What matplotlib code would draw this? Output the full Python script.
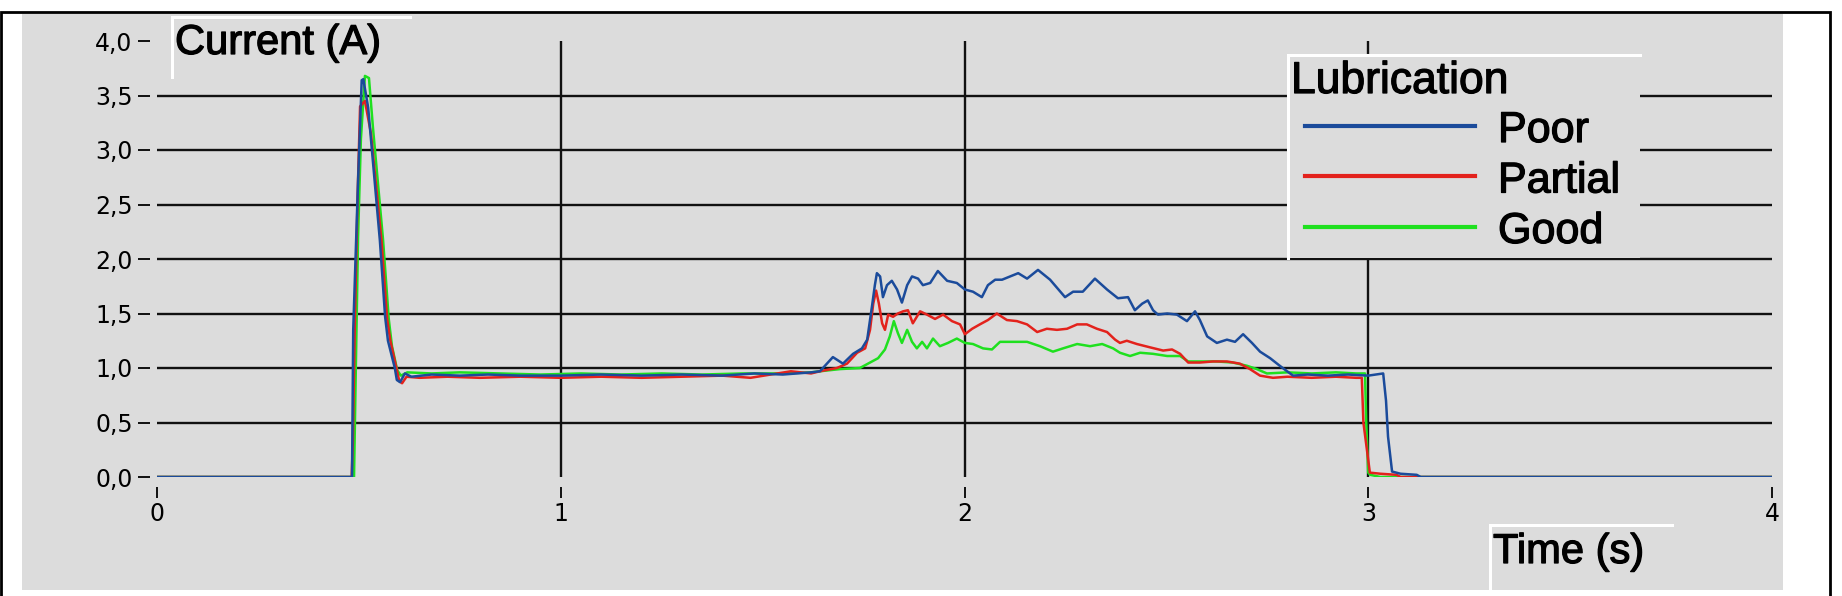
import matplotlib
matplotlib.use("Agg")
import matplotlib.pyplot as plt
import matplotlib.patheffects as pe
from matplotlib.lines import Line2D
from matplotlib.patches import Rectangle

W, H, DPI = 1842, 596, 100  # 输出尺寸 (像素)
PANEL = "#dcdcdc"
FONT = "Liberation Sans"
BOLDISH = [pe.withStroke(linewidth=0.9, foreground="black")]

SERIES = ["Poor", "Partial", "Good"]
COLORS = ["#1b4b9b", "#e3221c", "#1fe01f"]

X_TICKS = [0, 1, 2, 3, 4]
Y_TICKS = [0.0, 0.5, 1.0, 1.5, 2.0, 2.5, 3.0, 3.5, 4.0]

# Poor lubrication
t_poor = [0.0, 0.483, 0.486, 0.498, 0.507, 0.511, 0.523, 0.552, 0.565, 0.572, 0.589, 0.594, 0.602, 0.614,
          0.63, 0.68, 0.75, 0.82, 0.90, 1.00, 1.10, 1.20, 1.30, 1.40, 1.48, 1.55, 1.62,
          1.642, 1.674, 1.699, 1.724, 1.746, 1.759, 1.771, 1.778, 1.783, 1.791, 1.798, 1.808, 1.820,
          1.833, 1.845, 1.858, 1.870, 1.885, 1.897, 1.915, 1.934, 1.957, 1.981, 2.001, 2.021, 2.043,
          2.058, 2.076, 2.093, 2.113, 2.133, 2.155, 2.182, 2.212, 2.249, 2.269, 2.293, 2.323, 2.353,
          2.380, 2.405, 2.422, 2.440, 2.454, 2.467, 2.479, 2.502, 2.526, 2.551, 2.571, 2.583, 2.601,
          2.625, 2.650, 2.670, 2.690, 2.712, 2.732, 2.757, 2.781, 2.799, 2.814,
          2.85, 2.90, 2.95, 3.00, 3.037, 3.044, 3.049, 3.059, 3.08, 3.12, 3.13, 4.0]
i_poor = [0.0, 0.0, 1.35, 2.72, 3.64, 3.65, 3.39, 2.17, 1.47, 1.25, 1.00, 0.89, 0.87, 0.95,
          0.92, 0.94, 0.93, 0.94, 0.93, 0.93, 0.94, 0.93, 0.94, 0.93, 0.95, 0.94, 0.96,
          0.97, 1.10, 1.04, 1.13, 1.18, 1.26, 1.57, 1.76, 1.87, 1.84, 1.65, 1.76, 1.80,
          1.72, 1.60, 1.76, 1.84, 1.82, 1.76, 1.78, 1.89, 1.80, 1.78, 1.72, 1.70, 1.65,
          1.76, 1.81, 1.81, 1.84, 1.87, 1.82, 1.90, 1.81, 1.65, 1.70, 1.70, 1.82, 1.72,
          1.64, 1.65, 1.53, 1.59, 1.62, 1.53, 1.49, 1.50, 1.49, 1.43, 1.52, 1.44, 1.29,
          1.23, 1.26, 1.24, 1.31, 1.23, 1.15, 1.09, 1.02, 0.97, 0.93,
          0.94, 0.93, 0.94, 0.93, 0.95, 0.70, 0.37, 0.05, 0.03, 0.02, 0.0, 0.0]

# Partial lubrication
t_partial = [0.0, 0.482, 0.485, 0.490, 0.497, 0.503, 0.515, 0.530, 0.556, 0.570, 0.578, 0.593, 0.600, 0.607, 0.618,
             0.65, 0.72, 0.80, 0.90, 1.00, 1.10, 1.20, 1.30, 1.40, 1.47, 1.52, 1.57, 1.62,
             1.642, 1.684, 1.709, 1.734, 1.754, 1.766, 1.774, 1.781, 1.788, 1.796, 1.803, 1.811, 1.823,
             1.835, 1.848, 1.860, 1.872, 1.890, 1.907, 1.927, 1.947, 1.969, 1.989, 2.001, 2.019, 2.038,
             2.058, 2.080, 2.105, 2.130, 2.155, 2.180, 2.204, 2.229, 2.254, 2.279, 2.303, 2.328, 2.353,
             2.373, 2.385, 2.402, 2.427, 2.459, 2.492, 2.514, 2.534, 2.554, 2.583, 2.615, 2.650, 2.682,
             2.707, 2.732, 2.764, 2.80, 2.86, 2.92, 2.97, 2.984, 2.988, 3.004, 3.03, 3.07, 3.08, 4.0]
i_partial = [0.0, 0.0, 0.31, 1.40, 2.60, 3.40, 3.45, 3.15, 2.17, 1.45, 1.25, 1.00, 0.88, 0.86, 0.92,
             0.91, 0.92, 0.91, 0.92, 0.91, 0.92, 0.91, 0.92, 0.93, 0.91, 0.94, 0.97, 0.95,
             0.97, 1.00, 1.04, 1.14, 1.18, 1.35, 1.59, 1.71, 1.59, 1.41, 1.35, 1.49, 1.47,
             1.50, 1.52, 1.53, 1.41, 1.52, 1.49, 1.45, 1.49, 1.43, 1.40, 1.31, 1.36, 1.40,
             1.44, 1.50, 1.44, 1.43, 1.40, 1.33, 1.36, 1.35, 1.36, 1.40, 1.40, 1.36, 1.33,
             1.26, 1.23, 1.25, 1.22, 1.19, 1.16, 1.17, 1.13, 1.05, 1.05, 1.06, 1.06, 1.04,
             0.99, 0.93, 0.91, 0.92, 0.91, 0.92, 0.91, 0.91, 0.50, 0.04, 0.03, 0.02, 0.0, 0.0]

# Good lubrication
t_good = [0.0, 0.488, 0.492, 0.498, 0.505, 0.515, 0.525, 0.535, 0.560, 0.574, 0.582, 0.595, 0.604, 0.62,
          0.68, 0.75, 0.85, 0.95, 1.05, 1.15, 1.25, 1.35, 1.45, 1.55, 1.62,
          1.642, 1.692, 1.741, 1.766, 1.786, 1.803, 1.815, 1.825, 1.835, 1.845, 1.858, 1.870, 1.882,
          1.895, 1.907, 1.922, 1.939, 1.959, 1.981, 2.001, 2.021, 2.046, 2.068, 2.088, 2.120, 2.155,
          2.187, 2.219, 2.244, 2.279, 2.311, 2.341, 2.368, 2.385, 2.410, 2.435, 2.467, 2.502, 2.534,
          2.554, 2.583, 2.625, 2.665, 2.700, 2.724, 2.749, 2.80, 2.86, 2.92, 2.97, 2.992, 2.995,
          3.000, 3.005, 3.03, 4.0]
i_good = [0.0, 0.0, 0.90, 2.20, 3.10, 3.68, 3.66, 3.20, 2.17, 1.45, 1.20, 0.98, 0.93, 0.96,
          0.95, 0.96, 0.95, 0.94, 0.95, 0.94, 0.95, 0.94, 0.95, 0.95, 0.96,
          0.97, 0.99, 1.00, 1.05, 1.09, 1.17, 1.29, 1.43, 1.32, 1.23, 1.35, 1.24, 1.18,
          1.24, 1.18, 1.27, 1.20, 1.23, 1.27, 1.23, 1.22, 1.18, 1.17, 1.24, 1.24, 1.24,
          1.20, 1.15, 1.18, 1.22, 1.20, 1.22, 1.18, 1.14, 1.11, 1.14, 1.13, 1.11, 1.11,
          1.06, 1.06, 1.06, 1.05, 1.02, 0.99, 0.95, 0.96, 0.95, 0.96, 0.95, 0.95, 0.50,
          0.04, 0.02, 0.0, 0.0]


def fx(x):
    return x / W


def fy(y):
    return 1 - y / H


def white_line(fig, xs, ys, lw=2.2):
    fig.add_artist(Line2D([fx(x) for x in xs], [fy(y) for y in ys], color="white",
                          lw=lw, transform=fig.transFigure, zorder=3))


def label(fig, x, y, s, size):
    fig.text(fx(x), fy(y), s, fontsize=size, family=FONT, va="baseline", ha="left",
             zorder=4, path_effects=BOLDISH)


def main():
    fig = plt.figure(figsize=(W / DPI, H / DPI), dpi=DPI, facecolor="white")

    # 灰色面板和黑色外框
    fig.add_artist(Rectangle((fx(22), fy(590)), fx(1783 - 22), (590 - 14) / H,
                             facecolor=PANEL, edgecolor="none", transform=fig.transFigure, zorder=-2))
    fig.add_artist(Rectangle((fx(1), fy(605)), fx(1830 - 1), (605 - 12) / H, facecolor="none",
                             edgecolor="black", lw=2.0, transform=fig.transFigure, zorder=-1))

    ax = fig.add_axes([fx(157), fy(477), fx(1772 - 157), (477 - 41) / H])
    ax.set_facecolor("none")
    ax.set_xlim(X_TICKS[0], X_TICKS[-1])
    ax.set_ylim(Y_TICKS[0], Y_TICKS[-1])

    ax.hlines(Y_TICKS[1:-1], X_TICKS[0], X_TICKS[-1], color="#111111", lw=1.7, zorder=1)
    ax.vlines(X_TICKS[1:-1], Y_TICKS[0], Y_TICKS[-1], color="#111111", lw=1.7, zorder=1)

    data = {"Poor": (t_poor, i_poor), "Partial": (t_partial, i_partial), "Good": (t_good, i_good)}
    lines = {}
    for name, color in reversed(list(zip(SERIES, COLORS))):
        t, i = data[name]
        (lines[name],) = ax.plot(t, i, color=color, lw=1.8, zorder=2)

    for side in ax.spines.values():
        side.set_visible(False)
    ax.spines["left"].set_position(("outward", 5))
    ax.spines["bottom"].set_position(("outward", 7))
    ax.set_xticks(X_TICKS)
    ax.set_xticklabels([str(v) for v in X_TICKS])
    ax.set_yticks(Y_TICKS)
    ax.set_yticklabels([f"{v:.1f}".replace(".", ",") for v in Y_TICKS])
    ax.tick_params(axis="y", direction="out", length=8.5, width=1.3, pad=4, labelsize=17)
    ax.tick_params(axis="x", direction="out", length=8, width=1.3, pad=3, labelsize=17)

    # 坐标轴标题
    label(fig, 175, 54, "Current (A)", 30)
    white_line(fig, [172, 172], [17, 77])
    white_line(fig, [172, 410], [17, 17])
    label(fig, 1493, 563, "Time (s)", 30)
    white_line(fig, [1490, 1490], [525, 590])
    white_line(fig, [1490, 1672], [525, 525])

    # 图例
    fig.add_artist(Rectangle((fx(1288), fy(258)), fx(1640 - 1288), (258 - 55) / H, facecolor=PANEL,
                             edgecolor="none", transform=fig.transFigure, zorder=2))
    white_line(fig, [1288, 1288], [55, 258])
    white_line(fig, [1288, 1640], [55, 55])
    label(fig, 1291, 93, "Lubrication", 32)
    for k, name in enumerate(SERIES):
        y_line = 126 + k * 50.5
        fig.add_artist(Line2D([fx(1305), fx(1475)], [fy(y_line), fy(y_line)], color=lines[name].get_color(),
                              lw=3.0, transform=fig.transFigure, zorder=4))
        label(fig, 1498, y_line + 16, name, 31)

    fig.savefig("out.png", dpi=DPI, facecolor="white")


if __name__ == "__main__":
    main()
